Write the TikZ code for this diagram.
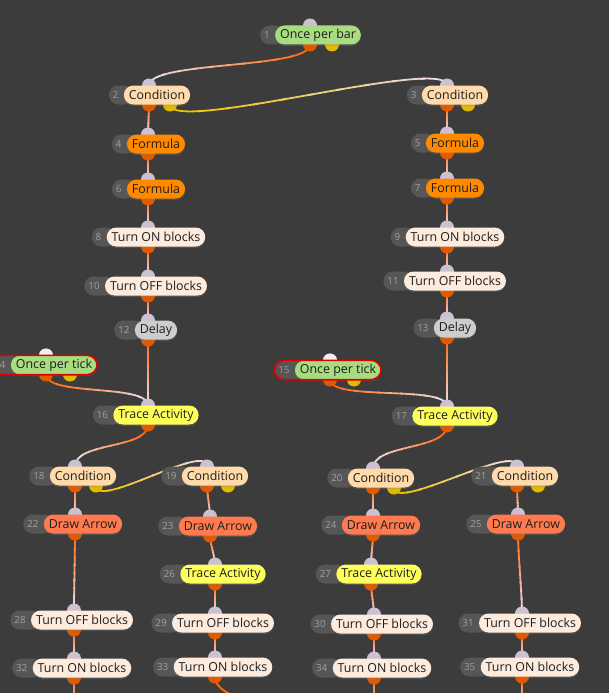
\documentclass[tikz,border=0pt]{standalone}
\usepackage{fontspec}
\setmainfont{Open Sans}
\usetikzlibrary{calc,fit,shadows}
\definecolor{bg}{HTML}{3C3C3C}
\definecolor{numc}{HTML}{565656}
\definecolor{numt}{HTML}{A0A0A0}
\definecolor{cgreen}{HTML}{A8DC80}
\definecolor{cpeach}{HTML}{FFDAAA}
\definecolor{corange}{HTML}{FF8A00}
\definecolor{clinen}{HTML}{FDEBDD}
\definecolor{cgray}{HTML}{CDCDCD}
\definecolor{cyel}{HTML}{FFFF5A}
\definecolor{ccoral}{HTML}{FF7A4E}
\definecolor{pin}{HTML}{CDC0D3}
\definecolor{pinw}{HTML}{F8E8F0}
\definecolor{pout}{HTML}{E25A00}
\definecolor{pyel}{HTML}{E2BA00}
\definecolor{wor}{HTML}{FF6A14}
\definecolor{wye}{HTML}{F2C200}
\definecolor{wend}{HTML}{EEDAE2}
\definecolor{txt}{HTML}{1E1E1E}
\definecolor{redo}{HTML}{E00000}

\pgfdeclarelayer{wires}\pgfdeclarelayer{ports}\pgfdeclarelayer{nums}
\pgfsetlayers{wires,ports,nums,main}

\tikzset{
 lab/.style={rounded corners=9.5pt, minimum height=19pt, inner ysep=0pt, inner xsep=5pt, text=txt, font=\fontsize{12.4}{12.4}\selectfont,
   drop shadow={shadow xshift=0pt, shadow yshift=-1.5pt, opacity=0.3}},
 numbox/.style={fill=numc, rounded corners=9.5pt, minimum height=19pt, inner ysep=0pt, inner xsep=4pt, text=numt, font=\fontsize{9.8}{9.8}\selectfont},
 port/.style={circle, inner sep=0pt, minimum size=14pt},
 inport/.style={port, fill=pin},
 inportw/.style={port, fill=pinw},
 outport/.style={port, fill=pout},
 yport/.style={port, fill=pyel},
 wire/.style={line width=1.8pt},
 redring/.style={draw=redo, line width=1.6pt, rounded corners=10.5pt, inner sep=0pt},
}

% name, number, label, fill, port x, y
\newcommand\blk[6]{%
  \node[lab, fill=#4] (#1) at (#5+8,#6) {#3};
  \begin{pgfonlayer}{nums}
    \node[numbox, anchor=east] (#1n) at ([xshift=10pt]#1.west) {#2\kern11pt\null};
  \end{pgfonlayer}
  \begin{pgfonlayer}{ports}
    \node[inport] (#1i) at (#5,#6-9.5) {};
    \node[outport] (#1o) at (#5,#6+9.5) {};
  \end{pgfonlayer}}
\newcommand\ypt[3]{%
  \begin{pgfonlayer}{ports}
    \node[yport] (#1y) at (#2+22,#3+9.5) {};
  \end{pgfonlayer}}
% from, to, colour, band axis (x/y), control distance
\newcommand\wire[5]{%
  \begin{pgfonlayer}{wires}
  \foreach \i [evaluate=\i as \a using \i/10, evaluate=\i as \b using (\i+1)/10+0.02, evaluate=\i as \m using int(100-11*\i)] in {0,...,9}{
    \path ($(#1.center)!\a!(#2.center)$) coordinate (w0) ($(#1.center)!\b!(#2.center)$) coordinate (w1);
    \begin{scope}
      \ifx#4x\clip ([yshift=-900pt]w0) rectangle ([yshift=900pt]w1);
      \else\clip ([xshift=-900pt]w0) rectangle ([xshift=900pt]w1);\fi
      \draw[wire, draw=#3!\m!wend] (#1.center) .. controls +(0,#5) and +(0,-#5) .. (#2.center);
    \end{scope}}
  \end{pgfonlayer}}

\begin{document}
\begin{tikzpicture}[x=1pt,y=-1pt]
\useasboundingbox (0,0) rectangle (609,693);
\begin{pgfonlayer}{wires}
  \fill[bg] (0,0) rectangle (609,693);
\end{pgfonlayer}

\blk{n1}{1}{Once per bar}{cgreen}{310}{35}\ypt{n1}{310}{35}
\blk{n2}{2}{Condition}{cpeach}{149}{95}\ypt{n2}{148}{95}
\blk{n3}{3}{Condition}{cpeach}{447}{95}\ypt{n3}{446}{95}
\blk{n4}{4}{Formula}{corange}{148}{144}
\blk{n5}{5}{Formula}{corange}{447}{143}
\blk{n6}{6}{Formula}{corange}{148}{189}
\blk{n7}{7}{Formula}{corange}{447}{188}
\blk{n8}{8}{Turn ON blocks}{clinen}{148}{237}
\blk{n9}{9}{Turn ON blocks}{clinen}{447}{237}
\blk{n10}{10}{Turn OFF blocks}{clinen}{148}{286}
\blk{n11}{11}{Turn OFF blocks}{clinen}{447}{281}
\blk{n12}{12}{Delay}{cgray}{148}{330}
\blk{n13}{13}{Delay}{cgray}{447}{328}
\blk{n14}{14}{Once per tick}{cgreen}{46}{365}\ypt{n14}{48}{365}
\blk{n15}{15}{Once per tick}{cgreen}{330}{370}\ypt{n15}{332}{370}
\begin{pgfonlayer}{ports}
  \node[inportw] at (n14i) {};
  \node[inportw] at (n15i) {};
\end{pgfonlayer}
\node[redring, fit=(n14n)(n14)] (r14) {};
\node[redring, fit=(n15n)(n15)] (r15) {};
\blk{n16}{16}{Trace Activity}{cyel}{148}{415}
\blk{n17}{17}{Trace Activity}{cyel}{447}{416}
\blk{n18}{18}{Condition}{cpeach}{75}{476}\ypt{n18}{74}{476}
\blk{n19}{19}{Condition}{cpeach}{207}{476}\ypt{n19}{206}{476}
\blk{n20}{20}{Condition}{cpeach}{373}{478}\ypt{n20}{372}{478}
\blk{n21}{21}{Condition}{cpeach}{517}{476}\ypt{n21}{516}{476}
\blk{n22}{22}{Draw Arrow}{ccoral}{75}{524}
\blk{n23}{23}{Draw Arrow}{ccoral}{210}{526}
\blk{n24}{24}{Draw Arrow}{ccoral}{373}{525}
\blk{n25}{25}{Draw Arrow}{ccoral}{518}{524}
\blk{n26}{26}{Trace Activity}{cyel}{215}{574}
\blk{n27}{27}{Trace Activity}{cyel}{371}{574}
\blk{n28}{28}{Turn OFF blocks}{clinen}{74}{620}
\blk{n29}{29}{Turn OFF blocks}{clinen}{215}{623}
\blk{n30}{30}{Turn OFF blocks}{clinen}{374}{624}
\blk{n31}{31}{Turn OFF blocks}{clinen}{522}{623}
\blk{n32}{32}{Turn ON blocks}{clinen}{74}{668}
\blk{n33}{33}{Turn ON blocks}{clinen}{215}{667}
\blk{n34}{34}{Turn ON blocks}{clinen}{374}{668}
\blk{n35}{35}{Turn ON blocks}{clinen}{522}{667}

\coordinate (e32) at (74,712);
\coordinate (e33) at (420,745);
\coordinate (e34) at (374,712);
\coordinate (e35) at (522,712);

\wire{n1o}{n2i}{wor}{x}{25}
\wire{n2y}{n3i}{wye}{x}{30}
\wire{n2o}{n4i}{wor}{y}{5}
\wire{n3o}{n5i}{wor}{y}{5}
\wire{n4o}{n6i}{wor}{y}{5}
\wire{n5o}{n7i}{wor}{y}{5}
\wire{n6o}{n8i}{wor}{y}{5}
\wire{n7o}{n9i}{wor}{y}{5}
\wire{n8o}{n10i}{wor}{y}{5}
\wire{n9o}{n11i}{wor}{y}{5}
\wire{n10o}{n12i}{wor}{y}{5}
\wire{n11o}{n13i}{wor}{y}{5}
\wire{n12o}{n16i}{wor}{y}{10}
\wire{n13o}{n17i}{wor}{y}{10}
\wire{n14o}{n16i}{wor}{x}{22}
\wire{n15o}{n17i}{wor}{x}{22}
\wire{n16o}{n18i}{wor}{x}{25}
\wire{n18y}{n19i}{wye}{x}{25}
\wire{n17o}{n20i}{wor}{x}{25}
\wire{n20y}{n21i}{wye}{x}{25}
\wire{n18o}{n22i}{wor}{y}{8}
\wire{n19o}{n23i}{wor}{y}{8}
\wire{n20o}{n24i}{wor}{y}{8}
\wire{n21o}{n25i}{wor}{y}{8}
\wire{n22o}{n28i}{wor}{y}{20}
\wire{n23o}{n26i}{wor}{y}{8}
\wire{n24o}{n27i}{wor}{y}{8}
\wire{n25o}{n31i}{wor}{y}{20}
\wire{n26o}{n29i}{wor}{y}{8}
\wire{n27o}{n30i}{wor}{y}{8}
\wire{n28o}{n32i}{wor}{y}{8}
\wire{n29o}{n33i}{wor}{y}{8}
\wire{n30o}{n34i}{wor}{y}{8}
\wire{n31o}{n35i}{wor}{y}{8}
\wire{n32o}{e32}{wor}{y}{5}
\wire{n33o}{e33}{wor}{x}{45}
\wire{n34o}{e34}{wor}{y}{5}
\wire{n35o}{e35}{wor}{y}{5}
\end{tikzpicture}
\end{document}
